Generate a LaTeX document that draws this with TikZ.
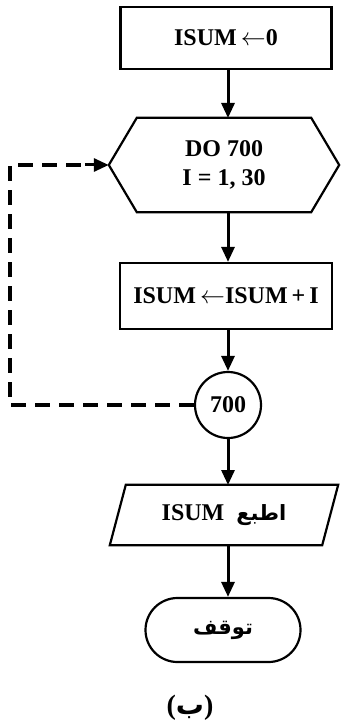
\documentclass[tikz,border=0pt]{standalone}
\usepackage{fontspec}
\setmainfont{Liberation Serif}
\newfontfamily\arabicfont[Script=Arabic]{DejaVu Sans}
\TeXXeTstate=1
\usetikzlibrary{arrows.meta,shapes.misc}
\begin{document}
\begin{tikzpicture}[x=1pt,y=-1pt,
  every node/.style={font=\fontsize{24}{28}\selectfont\bfseries, inner sep=0pt},
  arr/.style={line width=3pt,-{Triangle[length=15pt,width=13pt]}},
  dashy/.style={line width=3.2pt,dash pattern=on 15pt off 9pt},
  outl/.style={line width=2.2pt},
  procbox/.style={draw,outl,minimum width=211pt,minimum height=62pt},
]
\useasboundingbox (0,0) rectangle (340,727);
\node[procbox] (b1) at (226,38) {ISUM$\,\leftarrow$0};
\node[minimum width=230pt,minimum height=94pt,align=center] (hex) at (224,165) {DO 700\\[1pt]I = 1, 30};
\draw[outl] (hex.west) -- ([xshift=28pt]hex.north west) -- ([xshift=-28pt]hex.north east)
  -- (hex.east) -- ([xshift=-28pt]hex.south east) -- ([xshift=28pt]hex.south west) -- cycle;
\node[procbox,minimum width=212pt,minimum height=66pt] (b2) at (226,296) {ISUM$\,\leftarrow$ISUM\,+\,I};
\node[draw,circle,outl,minimum size=66pt] (c) at (228,405) {700};
\node[minimum width=212pt,minimum height=60pt] (out) at (224,515) {ISUM\ \ {\arabicfont\bfseries\fontsize{21}{24}\selectfont\beginR اطبع\endR}};
\draw[outl] ([xshift=8pt]out.north west) -- ([xshift=8pt]out.north east)
  -- ([xshift=-8pt]out.south east) -- ([xshift=-8pt]out.south west) -- cycle;
\node[draw,rounded rectangle,outl,minimum width=155pt,minimum height=64pt] (stop) at (223,630) {\arabicfont\bfseries\fontsize{21}{24}\selectfont\beginR توقف\endR};
\node[font=\fontsize{28}{32}\selectfont\bfseries] (lab) at (190,708) {({\arabicfont\bfseries ب})};
\coordinate (cl) at (10,405);
\coordinate (cu) at (10,165);
\draw[arr] (b1.south -| 228,0) -- (228,118);
\draw[arr] (228,212) -- (b2.north -| 228,0);
\draw[arr] (b2.south -| 228,0) -- (c.north);
\draw[arr] (c.south) -- (228,485);
\draw[arr] (228,545) -- (stop.north -| 228,0);
\draw[dashy] (c.west) -- (cl) -- (cu) -- ([xshift=-24pt]hex.west);
\draw[arr] ([xshift=-24pt]hex.west) -- (hex.west);
\end{tikzpicture}
\end{document}
